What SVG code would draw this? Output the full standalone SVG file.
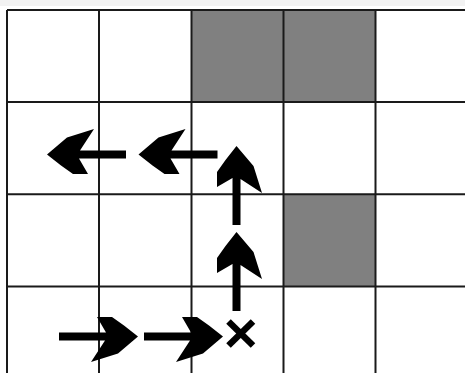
<svg xmlns="http://www.w3.org/2000/svg" xmlns:xlink="http://www.w3.org/1999/xlink" width="465" height="373" viewBox="0 0 465 373">
  <style>
    .cell { fill: #808080; }
    .grid { stroke: #1a1a1a; stroke-width: 2; fill: none; }
    .arrow { fill: #000; }
    .mark { stroke: #000; stroke-width: 6.5; fill: none; }
  </style>
  <defs>
    <path id="arr" d="M0,0 L20,-17 L47,-25.5 L33,-4 L79,-4 L79,4 L32,4 L41,19.5 L26,19.5 L14,11 Z"/>
  </defs>
  <rect x="0" y="0" width="465" height="373" fill="#ffffff"/>
  <rect x="0" y="0" width="465" height="6" fill="#f2f2f2"/>
  <g id="cells">
    <rect class="cell" x="191.5" y="10" width="92" height="92"/>
    <rect class="cell" x="283.5" y="10" width="92" height="92"/>
    <rect class="cell" x="283.5" y="194.3" width="92" height="92.2"/>
  </g>
  <g id="grid" class="grid">
    <line x1="7" y1="10" x2="465" y2="10"/>
    <line x1="7" y1="102" x2="465" y2="102"/>
    <line x1="7" y1="194.3" x2="465" y2="194.3"/>
    <line x1="7" y1="286.5" x2="465" y2="286.5"/>
    <line x1="7" y1="10" x2="7" y2="373"/>
    <line x1="99" y1="10" x2="99" y2="373"/>
    <line x1="191.5" y1="10" x2="191.5" y2="373"/>
    <line x1="283.5" y1="10" x2="283.5" y2="373"/>
    <line x1="375.5" y1="10" x2="375.5" y2="373"/>
  </g>
  <g id="connectors" class="arrow">
    <use xlink:href="#arr" transform="translate(223,336.5) rotate(180)"/>
    <use xlink:href="#arr" transform="translate(138,336.5) rotate(180)"/>
    <use xlink:href="#arr" transform="translate(236.5,232) rotate(90)"/>
    <use xlink:href="#arr" transform="translate(236.5,146) rotate(90)"/>
    <use xlink:href="#arr" transform="translate(138.5,154.5)"/>
    <use xlink:href="#arr" transform="translate(47,154.5)"/>
  </g>
  <g id="goal" class="mark">
    <line x1="228.5" y1="321.5" x2="253" y2="345.5"/>
    <line x1="253" y1="321.5" x2="228.5" y2="345.5"/>
  </g>
</svg>
